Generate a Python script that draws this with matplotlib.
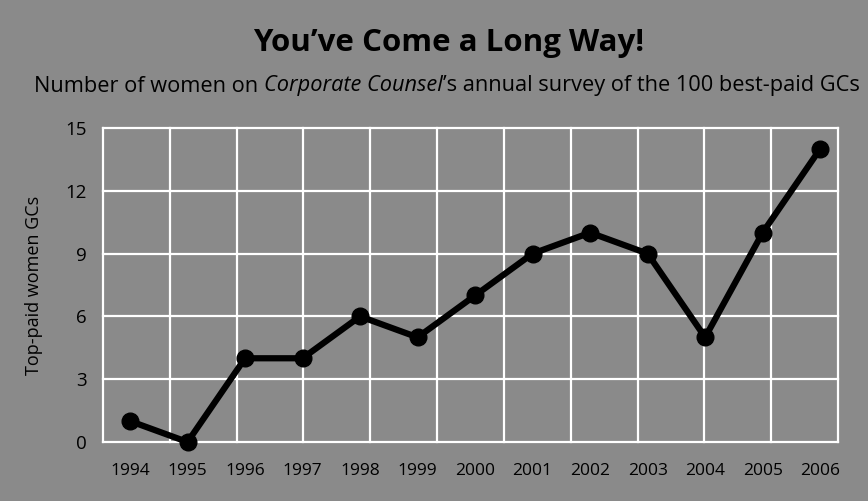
import matplotlib

matplotlib.use("Agg")

import matplotlib.pyplot as plt
import numpy as np

years = [1994, 1995, 1996, 1997, 1998, 1999, 2000, 2001, 2002, 2003, 2004, 2005, 2006]
women_gcs = [1, 0, 4, 4, 6, 5, 7, 9, 10, 9, 5, 10, 14]
y_ticks = [0, 3, 6, 9, 12, 15]

title = "You\u2019ve Come a Long Way!"
subtitle_parts = [
    ("Number of women on ", "normal"),
    ("Corporate Counsel", "italic"),
    ("\u2019s annual survey of the 100 best-paid GCs", "normal"),
]
y_label = "Top-paid women GCs"

BG = "#8a8a8a"
FONT = "Open Sans"


def place_segments(fig, parts, x_center, y, size):
    renderer = fig.canvas.get_renderer()
    texts = []
    for s, style in parts:
        t = fig.text(0, y, s, fontsize=size, style=style, family=FONT,
                     ha="left", va="center", color="black")
        texts.append(t)
    widths = [t.get_window_extent(renderer).width for t in texts]
    total = sum(widths)
    x = x_center * fig.bbox.width - total / 2
    for t, w in zip(texts, widths):
        t.set_x(x / fig.bbox.width)
        x += w


def main() -> None:
    fig = plt.figure(figsize=(8.68, 5.01), dpi=100, facecolor=BG)
    ax = fig.add_axes([103 / 868, 1 - 442 / 501, 735 / 868, 314 / 501])
    ax.set_facecolor(BG)

    x_min, x_max = years[0] - 0.47, years[-1] + 0.31
    ax.set_xlim(x_min, x_max)
    ax.set_ylim(0, 15)

    for xv in np.linspace(x_min, x_max, 12):
        ax.axvline(xv, color="white", lw=1.6, zorder=1, clip_on=False)
    for yv in y_ticks:
        ax.axhline(yv, color="white", lw=1.6, zorder=1, clip_on=False)

    ax.plot(years, women_gcs, color="black", lw=4.5, marker="o", markersize=12,
            zorder=3, clip_on=False)

    for sp in ax.spines.values():
        sp.set_visible(False)
    ax.set_xticks(years)
    ax.set_xticklabels([str(y) for y in years], family=FONT, fontsize=12.5)
    ax.set_yticks(y_ticks)
    ax.set_yticklabels([str(v) for v in y_ticks], family=FONT, fontsize=13.5)
    ax.tick_params(axis="x", length=0, pad=15)
    ax.tick_params(axis="y", length=0, pad=12)
    ax.set_ylabel(y_label, family=FONT, fontsize=13, labelpad=16)

    fig.text(449 / 868, 1 - 43 / 501, title, family=FONT, fontweight="bold",
             fontsize=22.5, ha="center", va="center", color="black")
    place_segments(fig, subtitle_parts, 447 / 868, 1 - 86 / 501, 15.7)

    fig.savefig("out.png", dpi=100, facecolor=BG)
    plt.close(fig)


if __name__ == "__main__":
    main()
